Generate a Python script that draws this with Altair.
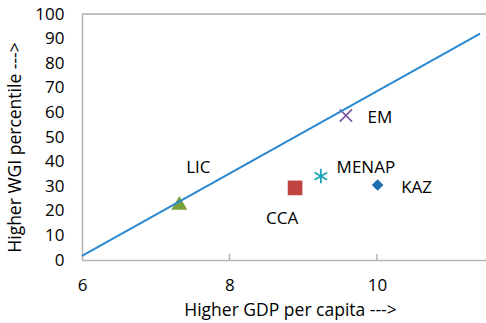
import altair as alt
import pandas as pd

# Country groups: log GDP per capita vs. WGI percentile
groups = ["LIC", "CCA", "MENAP", "KAZ", "EM"]
gdp = [7.32, 8.89, 9.24, 10.01, 9.58]
wgi = [23.2, 29.3, 34.1, 30.5, 58.7]

# Fitted line endpoints
line_x = [6.0, 11.4]
line_y = [1.7, 92.0]

x_ticks = [6, 8, 10]
y_ticks = [0, 10, 20, 30, 40, 50, 60, 70, 80, 90, 100]

FONT = "Open Sans"
FS = 17
W, H = 404, 246
AXIS_GREY = "#B3B3B3"

pts = pd.DataFrame({"group": groups, "gdp": gdp, "wgi": wgi})
xs = alt.Scale(domain=[6, 11.48], nice=False, zero=False)
ys = alt.Scale(domain=[0, 100], nice=False)

common = dict(grid=False, ticks=False, domainColor=AXIS_GREY, domainWidth=1.5,
              labelFontSize=FS, titleFontSize=17.5, titleFontWeight="normal",
              labelColor="#000", titleColor="#000", labelFont=FONT, titleFont=FONT,
              labelOverlap=False, labelFlush=False, format="d")
X = alt.X("gdp:Q", scale=xs, axis=alt.Axis(
    values=x_ticks, title="Higher GDP per capita --->", labelPadding=17,
    titlePadding=8, titleX=208, **common))
Y = alt.Y("wgi:Q", scale=ys, axis=alt.Axis(
    values=y_ticks, title="Higher WGI percentile --->", labelPadding=18,
    titlePadding=10, titleY=133, **common))

base = alt.Chart(pts)

style = {
    "LIC": dict(shape="triangle-up", size=256, filled=True, color="#76A03B", dx=19, dy=-35),
    "CCA": dict(shape="square", size=215, filled=True, color="#C0433F", dx=-13, dy=31),
    "MENAP": dict(shape="M0,-1L0,1M-0.87,-0.5L0.87,0.5M-0.87,0.5L0.87,-0.5", size=210,
                  filled=False, color="#1FA3B6", dx=45, dy=-8),
    "KAZ": dict(shape="diamond", size=135, filled=True, color="#1F6EAE", dx=39, dy=3),
    "EM": dict(shape="M-1,-1L1,1M-1,1L1,-1", size=150, filled=False, color="#7C5EA0",
               dx=34, dy=2),
}

layers = []
for g in groups:
    s = style[g]
    sub = base.transform_filter(alt.datum.group == g)
    if s["filled"]:
        mk = sub.mark_point(shape=s["shape"], size=s["size"], filled=True,
                            color=s["color"], opacity=1)
    else:
        mk = sub.mark_point(shape=s["shape"], size=s["size"], filled=False,
                            color=s["color"], strokeWidth=1.8, opacity=1)
    layers.append(mk.encode(x=X, y=Y))
    layers.append(sub.mark_text(font=FONT, fontSize=FS, color="#000", dx=s["dx"], dy=s["dy"],
                                align="center", baseline="middle")
                  .encode(x=X, y=Y, text="group:N"))

line = alt.Chart(pd.DataFrame({"gdp": line_x, "wgi": line_y})).mark_line(
    color="#2A88CF", strokeWidth=2).encode(x=X, y=Y)

# small inward tick marks on the x axis
ticks = alt.Chart(pd.DataFrame({"gdp": x_ticks[1:]})).mark_rule(
    color=AXIS_GREY, strokeWidth=1.5).encode(
    x=X, y=alt.value(H - 6), y2=alt.value(H))

# top frame line
top = alt.Chart(pd.DataFrame({"a": [0]})).mark_rule(color=AXIS_GREY, strokeWidth=1.5).encode(
    x=alt.value(0), x2=alt.value(W), y=alt.value(0))

chart = alt.layer(top, ticks, *layers, line).properties(
    width=W, height=H,
    autosize=alt.AutoSizeParams(type="none"),
    padding={"left": 82, "top": 14, "right": 0, "bottom": 63},
).configure_view(stroke=None).configure(background="white")

chart.save("out.html", embed_options={"renderer": "svg", "actions": False})
